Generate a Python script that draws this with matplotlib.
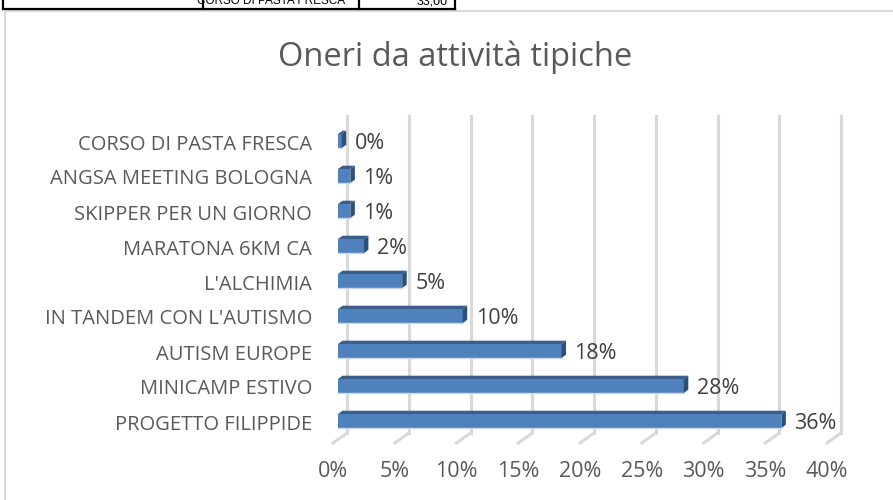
import matplotlib.pyplot as plt
from matplotlib.patches import Polygon, Rectangle
from matplotlib.lines import Line2D

# data (bottom to top, as drawn)
categories = ['PROGETTO FILIPPIDE', 'MINICAMP ESTIVO', 'AUTISM EUROPE',
              "IN TANDEM CON L'AUTISMO", "L'ALCHIMIA", 'MARATONA 6KM CA',
              'SKIPPER PER UN GIORNO', 'ANGSA MEETING BOLOGNA', 'CORSO DI PASTA FRESCA']
values = [35.9, 28.0, 18.1, 10.1, 5.2, 2.1, 1.0, 1.0, 0.3]
value_labels = ['36%', '28%', '18%', '10%', '5%', '2%', '1%', '1%', '0%']
ticks = [0, 5, 10, 15, 20, 25, 30, 35, 40]
tick_labels = ['0%', '5%', '10%', '15%', '20%', '25%', '30%', '35%', '40%']
title = 'Oneri da attività tipiche'

plt.rcParams['font.family'] = ['Open Sans', 'DejaVu Sans']

W, H = 893, 500
fig = plt.figure(figsize=(W / 100, H / 100), dpi=100)
ax = fig.add_axes([338 / W, 37 / H, 494 / W, 350 / H])
ax.set_xlim(0, 40)
ax.set_ylim(-1.2, 8.8)
ax.axis('off')

# pixel -> data units
sx = 40 / 494
sy = 10 / 350

# 3d offsets (px)
back = (9 * sx, 6.5 * sy)
front = (-5 * sx, -3.5 * sy)
bdep = (4.5 * sx, 3.3 * sy)
floor = -0.529
top = 8.714
h = 0.4

grid_c = '#d9d9d9'
for t in ticks:
    ax.add_line(Line2D([t + back[0], t + back[0]], [floor + back[1], top],
                       color=grid_c, lw=2.2, clip_on=False, zorder=1))
    ax.add_line(Line2D([t + front[0], t + back[0]], [floor + front[1], floor + back[1]],
                       color=grid_c, lw=2.2, clip_on=False, zorder=1))

face = '#4f81bd'
topc = '#3a5f8d'
side = '#2e4f78'
for i, v in enumerate(values):
    y0, y1 = i - h / 2, i + h / 2
    ax.add_patch(Rectangle((0, y0), v, h, facecolor=face, edgecolor='none', zorder=3))
    ax.add_line(Line2D([0, v], [y0, y0], color='#c9d8ec', lw=1, zorder=3))
    ax.add_patch(Polygon([(0, y1), (v, y1), (v + bdep[0], y1 + bdep[1]), (bdep[0], y1 + bdep[1])],
                         closed=True, facecolor=topc, edgecolor='none', zorder=3, clip_on=False))
    ax.add_patch(Polygon([(v, y0), (v, y1), (v + bdep[0], y1 + bdep[1]), (v + bdep[0], y0 + bdep[1])],
                         closed=True, facecolor=side, edgecolor='none', zorder=3, clip_on=False))
    ax.text(v + 13 * sx, i - 0.08, value_labels[i], ha='left', va='center',
            fontsize=15.5, color='#404040', clip_on=False)
    ax.text(-26 * sx, i - 0.1, categories[i], ha='right', va='center',
            fontsize=14.5, color='#595959', clip_on=False)

for t, lab in zip(ticks, tick_labels):
    ax.text(t + front[0], -1.43, lab, ha='center', va='center',
            fontsize=15.5, color='#595959', clip_on=False)

fig.text(455 / W, 1 - 57 / H, title, ha='center', va='center',
         fontsize=23.5, color='#595959')

# chart area border
fig.add_artist(Line2D([5 / W, 5 / W], [0, 1 - 11 / H], color='#d9d9d9', lw=1.5))
fig.add_artist(Line2D([5 / W, 1], [1 - 11 / H, 1 - 11 / H], color='#d9d9d9', lw=1.5))

# spreadsheet cells above the chart
fig.add_artist(Line2D([3 / W, 455 / W], [1 - 9 / H, 1 - 9 / H], color='black', lw=1.6))
for x in [3, 203, 359, 455]:
    fig.add_artist(Line2D([x / W, x / W], [1 - 9 / H, 1], color='black', lw=1.6))
fig.text(271 / W, 1 - 4 / H, 'CORSO DI PASTA FRESCA', ha='center', va='baseline',
         fontsize=8.5, color='black', family='Liberation Sans')
fig.text(448 / W, 1 - 4 / H, '33,00', ha='right', va='baseline',
         fontsize=9, color='black', family='Liberation Sans')

fig.savefig('out.png', dpi=100)
